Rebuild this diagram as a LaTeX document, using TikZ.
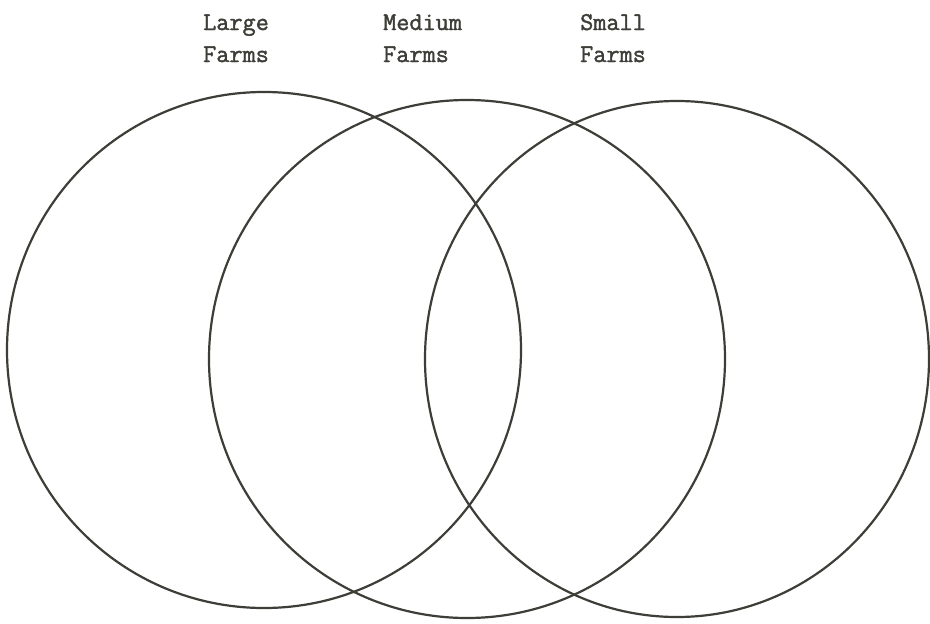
\documentclass[tikz,border=0pt]{standalone}
\usepackage{fontspec}
\newfontfamily\typew{Latin Modern Mono}[FakeBold=1.5]
\definecolor{ink}{RGB}{62,62,56}
\begin{document}
\begin{tikzpicture}[x=1pt,y=-1pt,
  ring/.style={draw=ink,line width=2.2pt},
  lbl/.style={anchor=base west,inner sep=0pt,text=ink,font=\typew\fontsize{25.5}{30}\selectfont}]
\useasboundingbox (0,0) rectangle (930,624);
\fill[white] (0,0) rectangle (930,624);
\coordinate (cL) at (264,350);
\coordinate (cM) at (467,359);
\coordinate (cS) at (677,359);
\draw[ring] (cL) ellipse [x radius=257pt, y radius=258pt];
\draw[ring] (cM) ellipse [x radius=258pt, y radius=259pt];
\draw[ring] (cS) ellipse [x radius=252pt, y radius=258pt];
\node[lbl] (large1) at (203,30) {Large};
\node[lbl] (large2) at (203,62) {Farms};
\node[lbl] (med1) at (383,30) {Medium};
\node[lbl] (med2) at (383,62) {Farms};
\node[lbl] (small1) at (580,30) {Small};
\node[lbl] (small2) at (580,62) {Farms};
\end{tikzpicture}
\end{document}
